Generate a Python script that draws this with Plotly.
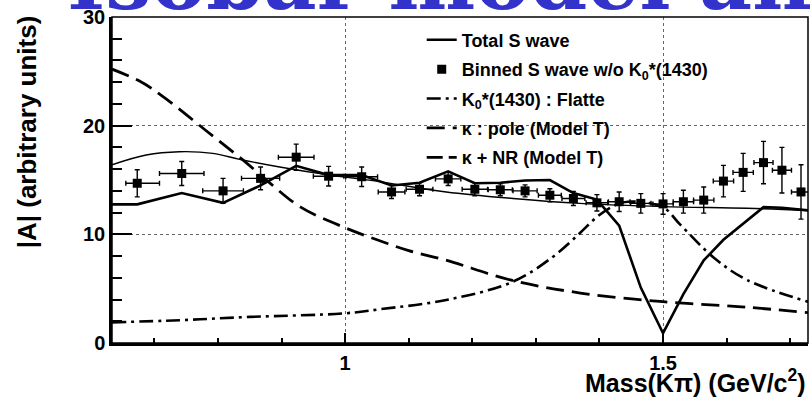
import plotly.graph_objects as go

# ---------------- data ----------------
# Binned S wave w/o K0*(1430)
bin_m = [0.673, 0.743, 0.808, 0.867, 0.923, 0.974, 1.026, 1.073, 1.117, 1.162, 1.204, 1.244, 1.283,
         1.322, 1.359, 1.396, 1.431, 1.465, 1.500, 1.532, 1.564, 1.595, 1.626, 1.658, 1.687, 1.717]
bin_A = [14.7, 15.6, 14.0, 15.15, 17.1, 15.35, 15.3, 13.9, 14.15, 15.1, 14.15, 14.1, 14.0,
         13.6, 13.3, 12.9, 13.0, 12.85, 12.8, 13.0, 13.15, 14.9, 15.7, 16.6, 15.9, 13.9]
bin_xerr_p = [0.035, 0.035, 0.032, 0.030, 0.028, 0.024, 0.025, 0.021, 0.021, 0.020, 0.020, 0.019, 0.019,
              0.018, 0.018, 0.017, 0.017, 0.016, 0.016, 0.016, 0.016, 0.016, 0.016, 0.015, 0.015, 0.015]
bin_xerr_m = [0.018, 0.035, 0.032, 0.030, 0.028, 0.024, 0.025, 0.021, 0.021, 0.020, 0.020, 0.019, 0.019,
              0.018, 0.018, 0.017, 0.017, 0.016, 0.016, 0.016, 0.016, 0.016, 0.016, 0.015, 0.015, 0.015]
bin_yerr = [1.25, 1.1, 1.15, 1.05, 1.2, 0.9, 0.9, 0.6, 0.6, 0.6, 0.6, 0.55, 0.55,
            0.6, 0.65, 0.75, 0.9, 0.9, 0.95, 1.05, 1.2, 1.45, 1.75, 1.95, 2.1, 2.5]

# Total S wave
tot_m = [0.6333, 0.673, 0.743, 0.808, 0.867, 0.923, 0.974, 1.026, 1.073, 1.117, 1.162, 1.204, 1.244,
         1.283, 1.322, 1.359, 1.396, 1.431, 1.465, 1.500, 1.532, 1.564, 1.595, 1.626, 1.658, 1.687,
         1.717, 1.728]
tot_A = [12.76, 12.76, 13.8, 12.9, 14.5, 16.3, 15.45, 15.45, 14.5, 14.75, 15.8, 14.7, 14.75,
         14.95, 15.0, 13.8, 13.2, 10.8, 5.1, 0.9, 4.5, 7.6, 9.5, 11.0, 12.5, 12.45,
         12.3, 12.2]

# K0*(1430) : Flatte
flat_m = [0.6333, 0.74, 0.85, 1.0, 1.054, 1.159, 1.264, 1.327, 1.369, 1.396, 1.422, 1.445,
          1.4995, 1.527, 1.579, 1.632, 1.728]
flat_A = [1.9, 2.1, 2.4, 2.73, 3.1, 3.96, 5.64, 7.94, 10.1, 11.6, 12.6, 13.0,
          12.5, 10.9, 7.9, 5.8, 3.8]

# kappa : pole (Model T)
pole_m = [0.6333, 0.68, 0.72, 0.78, 0.84, 0.88, 0.93, 1.0, 1.05, 1.1, 1.16, 1.26, 1.37, 1.5, 1.63, 1.728]
pole_A = [25.2, 24.0, 22.4, 19.6, 16.8, 14.8, 12.5, 10.6, 9.5, 8.5, 7.6, 5.8, 4.6, 3.8, 3.3, 2.8]

# kappa + NR (Model T)
knr_m = [0.6333, 0.687, 0.739, 0.792, 0.834, 0.897, 0.976, 1.054, 1.159, 1.264, 1.369, 1.5, 1.632, 1.728]
knr_A = [16.4, 17.3, 17.6, 17.45, 16.9, 16.2, 15.45, 14.85, 13.9, 13.3, 12.85, 12.55, 12.4, 12.2]

x_ticks = [1, 1.5]
x_ticktext = ["1", "1.5"]
y_ticks = [0, 10, 20, 30]

names = ["Total S wave",
         "Binned S wave w/o K<sub>0</sub>*(1430)",
         "K<sub>0</sub>*(1430) : Flatte",
         "\u03ba : pole (Model T)",
         "\u03ba + NR (Model T)"]

# ---------------- figure ----------------
FONT = "Liberation Sans"
fig = go.Figure()

fig.add_trace(go.Scatter(x=knr_m, y=knr_A, mode="lines", line=dict(color="black", width=1.4, shape="spline"),
                         showlegend=False))
fig.add_trace(go.Scatter(x=tot_m, y=tot_A, mode="lines", name=names[0], legendgroup="a",
                         line=dict(color="black", width=2.6)))
fig.add_trace(go.Scatter(x=bin_m, y=bin_A, mode="markers", name=names[1], legendgroup="b",
                         marker=dict(symbol="square", size=9, color="black"),
                         error_x=dict(type="data", array=bin_xerr_p, arrayminus=bin_xerr_m, symmetric=False,
                                      color="black", thickness=1.4, width=2.5),
                         error_y=dict(type="data", array=bin_yerr, color="black", thickness=1.4, width=2.5)))
fig.add_trace(go.Scatter(x=flat_m, y=flat_A, mode="lines", name=names[2], legendgroup="c",
                         line=dict(color="black", width=2.6, shape="spline", dash="14px,5px,3px,5px")))
fig.add_trace(go.Scatter(x=pole_m, y=pole_A, mode="lines", name=names[3], legendgroup="d",
                         line=dict(color="black", width=2.8, shape="spline", dash="18px,8px")))
fig.add_trace(go.Scatter(x=[None], y=[None], mode="lines", name=names[4], legendgroup="e",
                         line=dict(color="black", width=2.6, dash="16px,6px")))

fig.update_xaxes(range=[0.6333, 1.728], tickmode="array", tickvals=x_ticks, ticktext=x_ticktext,
                 ticks="inside", ticklen=10, tickwidth=1.5, tickcolor="black",
                 showline=True, linewidth=2.5, linecolor="black", zeroline=False,
                 showgrid=True, griddash="dot", gridcolor="#666", gridwidth=1,
                 minor=dict(tickmode="linear", tick0=0, dtick=0.1, ticks="inside", ticklen=5,
                            tickwidth=1.5, tickcolor="black", showgrid=False),
                 tickfont=dict(family=FONT, size=20, color="black", weight="bold"))
fig.update_yaxes(range=[0, 30], tickmode="array", tickvals=y_ticks,
                 ticks="inside", ticklen=20, tickwidth=1.5, tickcolor="black",
                 showline=True, linewidth=2.5, linecolor="black", zeroline=False,
                 showgrid=True, griddash="dot", gridcolor="#666", gridwidth=1,
                 minor=dict(tickmode="linear", tick0=0, dtick=2, ticks="inside", ticklen=10,
                            tickwidth=1.5, tickcolor="black", showgrid=False),
                 tickfont=dict(family=FONT, size=20, color="black", weight="bold"))

fig.update_layout(
    width=810, height=399,
    margin=dict(l=112, r=2, t=17, b=56),
    plot_bgcolor="white", paper_bgcolor="white",
    legend=dict(x=0.445, y=0.986, xanchor="left", yanchor="top", bgcolor="rgba(0,0,0,0)",
                font=dict(family=FONT, size=18, color="black", weight="bold"),
                tracegroupgap=3, traceorder="grouped"),
    shapes=[dict(type="rect", xref="paper", yref="paper", x0=0, x1=1, y0=0, y1=1,
                 line=dict(color="black", width=1.5), layer="above")],
    annotations=[
        dict(text="Mass(K\u03c0) (GeV/c<sup>2</sup>)", xref="paper", yref="paper", x=1.0, y=-0.172,
             xanchor="right", yanchor="bottom", showarrow=False,
             font=dict(family=FONT, size=25, color="black", weight="bold")),
        dict(text="|A| (arbitrary units)", xref="paper", yref="paper", x=-0.122, y=1.01,
             xanchor="center", yanchor="top", textangle=-90, showarrow=False,
             font=dict(family=FONT, size=26, color="black", weight="bold")),
        dict(text="Isobar model and", xref="paper", yref="paper", x=-0.068, y=0.959,
             xanchor="left", yanchor="bottom", showarrow=False,
             font=dict(family="DejaVu Serif", size=82, color="#3333cc", weight="bold")),
    ],
)

fig.write_html("out.html")
